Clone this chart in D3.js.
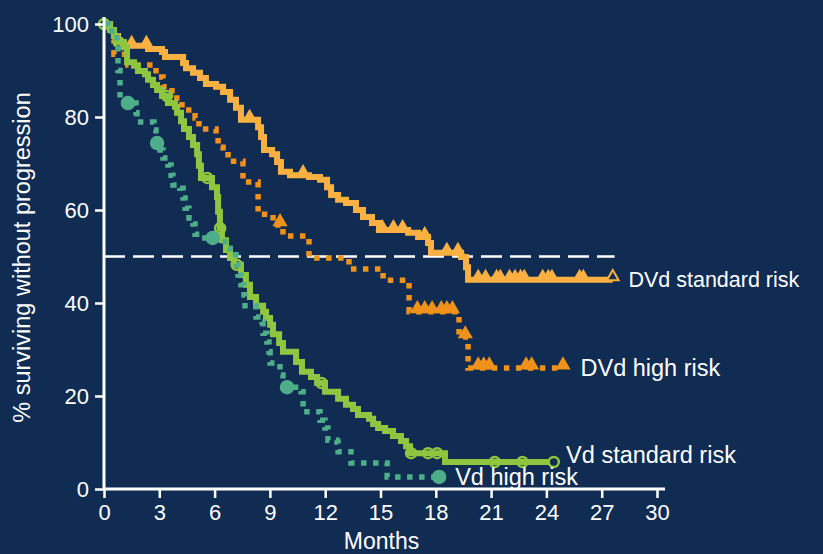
<!DOCTYPE html>
<html>
<head>
<meta charset="utf-8">
<script src="https://cdn.jsdelivr.net/npm/d3@7"></script>
<style>
  html, body { margin: 0; padding: 0; background: #102c52; }
  svg { display: block; }
  text { font-family: "Liberation Sans", Arial, Helvetica, sans-serif; fill: #ffffff; }
</style>
</head>
<body>
<svg id="chart" width="823" height="554"></svg>
<script>
// Kaplan–Meier progression-free survival, four groups.
// Step times (months) and % surviving after each step; censored times separately.

const xTicks = [0, 3, 6, 9, 12, 15, 18, 21, 24, 27, 30];
const yTicks = [0, 20, 40, 60, 80, 100];

// DVd standard risk
const dvdStdTime = [0, 0.33, 0.54, 0.76, 1.03, 2.39, 3.15, 3.31, 4.29, 4.45, 4.83, 5.21, 5.53, 6.08, 6.46, 6.84, 7.16, 7.43, 8.36, 8.52, 8.68, 9.12, 9.39, 9.6, 10.09, 11.12, 11.72, 12.1, 12.32, 12.7, 13.13, 13.67, 14.05, 14.54, 14.92, 16.5, 17.04, 17.58, 17.74, 19.37, 19.64, 19.75];
const dvdStdSurv = [100, 98.7, 97.4, 96.1, 95.3, 94.6, 94, 92.9, 91.6, 90.5, 89.5, 88.4, 87.1, 86.5, 85.4, 83.7, 82, 79.4, 77.8, 75.7, 72.9, 72, 70.3, 68.2, 67.5, 67.1, 66.5, 64.9, 63.2, 62.2, 61.5, 60, 58.5, 57.2, 55.7, 55.1, 54.2, 52.9, 50.8, 49.9, 47.7, 45];
const dvdStdCens = [1.5, 2.3, 7.9, 10.8, 15.1, 15.7, 16.2, 17.4, 18.6, 19.2, 20.3, 20.7, 21.3, 21.5, 22.0, 22.3, 22.6, 22.8, 23.8, 24.1, 24.3, 25.8, 26.0, 27.6];

// DVd high risk
const dvdHighTime = [0, 0.2, 0.43, 0.54, 1.3, 2.82, 3.2, 3.69, 4.23, 4.94, 5.15, 6.08, 6.19, 6.46, 6.73, 7.54, 8.36, 9.17, 9.71, 11.12, 13.29, 15.14, 16.55, 19.26, 19.75];
const dvdHighSurv = [100, 98.7, 96.6, 93.5, 91.2, 88.6, 86.5, 84.1, 81.5, 79.8, 77.4, 76.3, 73.5, 72.7, 70.5, 66, 59.1, 56.8, 54.4, 49.7, 47.3, 44.9, 38.1, 32.7, 26];
const dvdHighCens = [9.55, 17.0, 17.4, 17.8, 18.3, 18.6, 18.9, 19.6, 20.3, 20.6, 20.9, 22.9, 23.2, 24.9];

// Vd standard risk
const vdStdTime = [0, 0.33, 0.54, 0.7, 1.09, 1.25, 1.63, 1.84, 2.22, 2.39, 2.66, 2.88, 3.15, 3.47, 3.85, 3.96, 4.18, 4.34, 4.61, 4.83, 5.05, 5.15, 5.26, 5.86, 6.13, 6.19, 6.29, 6.4, 6.62, 6.84, 7.05, 7.43, 7.7, 7.92, 8.25, 8.63, 8.79, 9.01, 9.17, 9.5, 9.71, 10.42, 10.74, 11.23, 11.56, 11.99, 12.7, 13.13, 13.51, 13.78, 14.38, 14.6, 14.87, 15.25, 15.68, 16.11, 16.39, 16.6, 18.5];
const vdStdSurv = [100, 98.7, 97.4, 96.1, 95, 91.8, 91, 89.9, 89.2, 88, 86.9, 85.8, 84.5, 83, 82.2, 80.9, 79.1, 77.4, 75.7, 74, 72, 69.5, 66.9, 64.9, 62.8, 59.6, 56.1, 53.5, 51.4, 49.7, 48.2, 46, 43.9, 41.3, 39.4, 38.1, 36.8, 35.3, 33.3, 31.4, 29.5, 27.3, 25.2, 24.1, 22.8, 20.9, 19.4, 18.1, 17.2, 15.9, 15.1, 14, 13.1, 12.5, 11.4, 10.3, 9.2, 7.7, 5.8];
const vdStdCens = [0, 0.8, 3.42, 5.6, 6.3, 7.2, 11.8, 16.66, 17.58, 18.07, 21.2, 22.7, 24.4];

// Vd high risk
const vdHighTime = [0, 0.22, 0.7, 0.76, 0.87, 1.74, 1.79, 2.71, 2.82, 3.04, 3.2, 3.47, 3.64, 3.74, 4.12, 4.29, 4.4, 4.61, 4.83, 4.94, 5.21, 6.57, 6.84, 7.16, 7.27, 7.43, 7.6, 7.65, 8.25, 8.57, 8.63, 8.84, 8.95, 9.01, 9.55, 9.71, 10.69, 10.8, 11.72, 11.99, 12.15, 12.64, 12.7, 13.4, 15.36];
const vdHighSurv = [100, 98.5, 96, 90, 83, 80.9, 78.9, 77.2, 74.4, 72.9, 71.2, 69.7, 67.5, 65.4, 64.7, 62.6, 60.4, 58.3, 57, 54.8, 54, 51.8, 51, 48.2, 46, 43.9, 41.7, 39.4, 37, 35.9, 33.5, 31.6, 29.5, 27.1, 24.5, 21.9, 20.9, 16.6, 14.8, 13.1, 10.5, 10.1, 8, 5.6, 2.6];
const vdHighCens = [1.3, 2.88, 5.9, 9.93, 18.18];

const refLevel = 50;
const refEnd = 27.7;

const svg = d3.select("#chart");
const x = d3.scaleLinear().domain([0, 30]).range([104, 657]);
const y = d3.scaleLinear().domain([0, 100]).range([489, 24]);

const bg = "#102c52";
const colors = {
  dvdStd: "#fcb041",
  dvdHigh: "#f0921a",
  vdStd: "#8dc63f",
  vdHigh: "#4fae8a"
};

// Build step points, extending the last level to the final observation
function curve(times, surv, cens) {
  const pts = times.map((t, i) => [t, surv[i]]);
  const last = Math.max(times[times.length - 1], d3.max(cens));
  pts.push([last, surv[surv.length - 1]]);
  return pts;
}
function survAt(times, surv, t) {
  const i = d3.bisectRight(times, t) - 1;
  return surv[Math.max(0, i)];
}

const stepLine = d3.line().x(d => x(d[0])).y(d => y(d[1])).curve(d3.curveStepAfter);

// Reference line at the median
svg.append("line")
  .attr("x1", x(0)).attr("x2", x(refEnd))
  .attr("y1", y(refLevel)).attr("y2", y(refLevel))
  .attr("stroke", "#ffffff").attr("stroke-width", 2.5)
  .attr("stroke-dasharray", "21,8");

const groups = [
  { key: "dvdStd", t: dvdStdTime, s: dvdStdSurv, c: dvdStdCens, dotted: false, mark: "triangle", open: true },
  { key: "dvdHigh", t: dvdHighTime, s: dvdHighSurv, c: dvdHighCens, dotted: true, mark: "triangle", open: false },
  { key: "vdStd", t: vdStdTime, s: vdStdSurv, c: vdStdCens, dotted: false, mark: "circle", open: true },
  { key: "vdHigh", t: vdHighTime, s: vdHighSurv, c: vdHighCens, dotted: true, mark: "circle", open: false }
];

groups.forEach(g => {
  const col = colors[g.key];
  svg.append("path")
    .attr("d", stepLine(curve(g.t, g.s, g.c)))
    .attr("fill", "none")
    .attr("stroke", col)
    .attr("stroke-width", g.dotted ? 5.5 : 6)
    .attr("stroke-linejoin", "miter")
    .attr("stroke-dasharray", g.dotted ? "5.5,6.5" : null);

  const marks = svg.append("g");
  const lastC = d3.max(g.c);
  const tri = d3.symbol().type(d3.symbolTriangle).size(g.open ? 48 : 60);
  const endTri = d3.symbol().type(d3.symbolTriangle).size(60);
  g.c.forEach(ct => {
    const cx = x(ct), cy = y(survAt(g.t, g.s, ct));
    const isEnd = ct === lastC;
    if (g.mark === "triangle") {
      // open outline only for the final marker of the solid curve
      const hollow = g.open && isEnd;
      marks.append("path")
        .attr("d", hollow ? endTri() : tri())
        .attr("transform", `translate(${cx},${cy - 3})`)
        .attr("fill", hollow ? bg : col)
        .attr("stroke", col)
        .attr("stroke-width", 2);
    } else {
      marks.append("circle")
        .attr("cx", cx).attr("cy", cy)
        .attr("r", g.open ? 5 : 6)
        .attr("fill", g.open ? (isEnd ? bg : "none") : col)
        .attr("stroke", col)
        .attr("stroke-width", 2.5);
    }
  });
});

// Axes
const axisColor = "#ffffff";
const xAxis = d3.axisBottom(x).tickValues(xTicks).tickSize(9).tickSizeOuter(0).tickPadding(6);
const gx = svg.append("g").attr("transform", `translate(0,${y(0)})`).call(xAxis);
gx.select(".domain").remove();
gx.selectAll(".tick line").attr("stroke", axisColor).attr("stroke-width", 2.5);
gx.selectAll(".tick text").attr("font-size", 22).attr("fill", axisColor);

const yAxis = d3.axisLeft(y).tickValues(yTicks).tickSize(9).tickSizeOuter(0).tickPadding(6);
const gy = svg.append("g").attr("transform", `translate(${x(0)},0)`).call(yAxis);
gy.select(".domain").remove();
gy.selectAll(".tick line").attr("stroke", axisColor).attr("stroke-width", 2.5);
gy.selectAll(".tick text").attr("font-size", 22).attr("fill", axisColor);

svg.append("line")
  .attr("x1", x(0) - 1).attr("x2", x(30) + 8)
  .attr("y1", y(0)).attr("y2", y(0))
  .attr("stroke", axisColor).attr("stroke-width", 3);
svg.append("line")
  .attr("x1", x(0)).attr("x2", x(0))
  .attr("y1", y(0) + 1).attr("y2", y(100) - 7)
  .attr("stroke", axisColor).attr("stroke-width", 3);

// Axis titles
svg.append("text")
  .attr("x", (x(0) + x(30)) / 2 + 1).attr("y", 549)
  .attr("text-anchor", "middle").attr("font-size", 23)
  .text("Months");
svg.append("text")
  .attr("transform", `translate(30,${y(50) + 1}) rotate(-90)`)
  .attr("text-anchor", "middle").attr("font-size", 23.5)
  .text("% surviving without progression");

// Group labels at the end of each curve
const labels = [
  { text: "DVd standard risk", t: 28.45, v: dvdStdSurv[dvdStdSurv.length - 1], size: 21.5 },
  { text: "DVd high risk", t: 25.85, v: dvdHighSurv[dvdHighSurv.length - 1], size: 23.5 },
  { text: "Vd standard risk", t: 25.07, v: 7.3, size: 23.5 },
  { text: "Vd high risk", t: 19.05, v: 2.6, size: 23.5 }
];
labels.forEach(l => {
  svg.append("text")
    .attr("x", x(l.t)).attr("y", y(l.v))
    .attr("dy", "0.35em").attr("font-size", l.size)
    .text(l.text);
});
</script>
</body>
</html>
